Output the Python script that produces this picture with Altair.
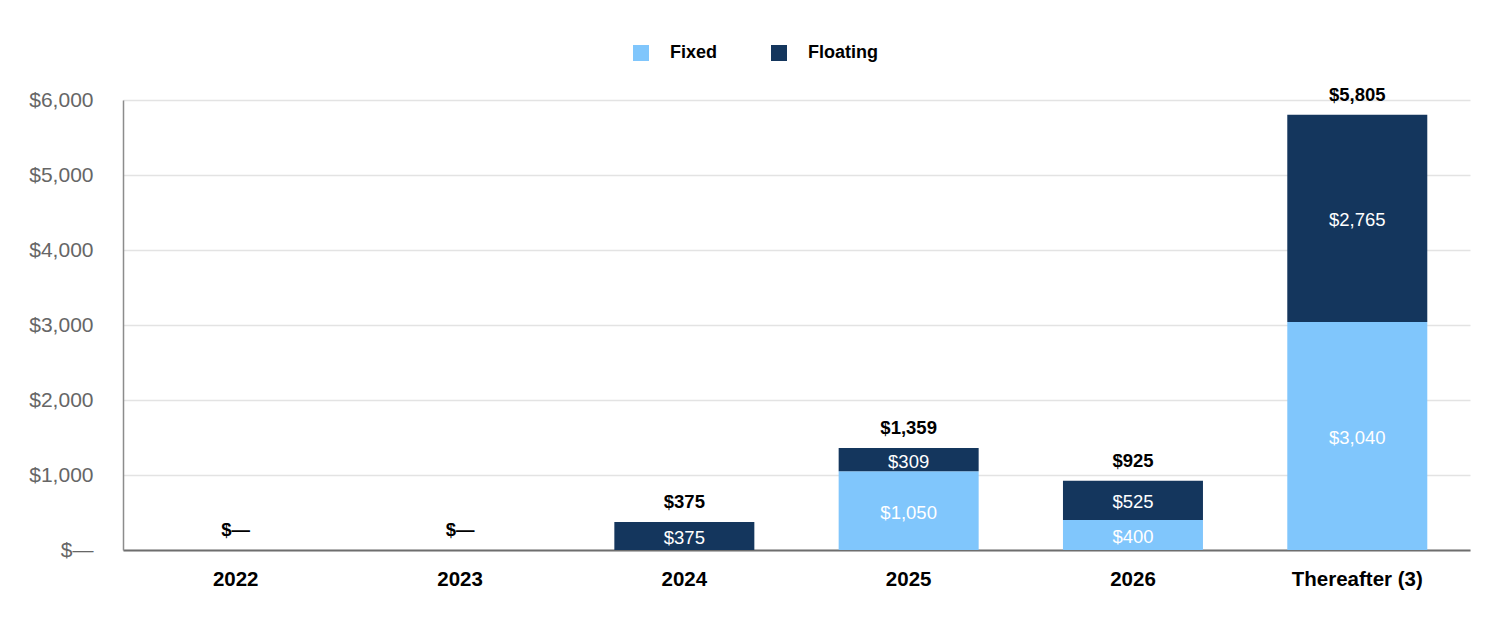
import altair as alt
import pandas as pd

# Debt maturities by year ($ millions)
categories = ["2022", "2023", "2024", "2025", "2026", "Thereafter (3)"]
fixed = [0, 0, 0, 1050, 400, 3040]
floating = [0, 0, 375, 309, 525, 2765]
series_names = ["Fixed", "Floating"]
series_colors = ["#80C6FC", "#14365D"]

FONT = "Liberation Sans"

rows = []
for cat, fx, fl in zip(categories, fixed, floating):
    rows.append({"cat": cat, "series": "Fixed", "value": fx, "mid": fx / 2, "ord": 0})
    rows.append({"cat": cat, "series": "Floating", "value": fl, "mid": fx + fl / 2, "ord": 1})
seg = pd.DataFrame(rows)
seg["label"] = seg["value"].map(lambda v: f"${v:,.0f}")
seg_labels = seg[seg["value"] > 0]

tot = pd.DataFrame({"cat": categories, "total": [a + b for a, b in zip(fixed, floating)]})
tot["label"] = tot["total"].map(lambda v: "$\u2014" if v == 0 else f"${v:,.0f}")

x_scale = alt.Scale(domain=categories, paddingInner=0.375, paddingOuter=0.19)
y_scale = alt.Scale(domain=[0, 6000], nice=False)

bars = alt.Chart(seg).mark_bar(size=140).encode(
    x=alt.X("cat:N", title=None, scale=x_scale),
    y=alt.Y(
        "sum(value):Q",
        stack="zero",
        scale=y_scale,
        title=None,
        axis=alt.Axis(
            values=[0, 1000, 2000, 3000, 4000, 5000, 6000],
            labelExpr="datum.value == 0 ? '$\u2014' : '$' + format(datum.value, ',')",
        ),
    ),
    color=alt.Color(
        "series:N",
        scale=alt.Scale(domain=series_names, range=series_colors),
        legend=alt.Legend(
            title=None,
            orient="none",
            direction="horizontal",
            legendX=509,
            legendY=-56,
            symbolType="square",
            symbolSize=256,
            symbolStrokeWidth=0,
            symbolOpacity=1,
            labelFont=FONT,
            labelFontSize=18,
            labelFontWeight="bold",
            labelColor="#000000",
            labelOffset=20,
            columnPadding=52,
        ),
    ),
    order=alt.Order("ord:Q", sort="ascending"),
)

seg_text = alt.Chart(seg_labels).mark_text(
    font=FONT, fontSize=18.5, color="#ffffff", baseline="middle", dy=2
).encode(
    x=alt.X("cat:N", scale=x_scale),
    y=alt.Y("mid:Q", scale=y_scale),
    text="label:N",
)

tot_text = alt.Chart(tot).mark_text(
    font=FONT, fontSize=18.5, fontWeight="bold", color="#000000", baseline="middle", dy=-20
).encode(
    x=alt.X("cat:N", scale=x_scale),
    y=alt.Y("total:Q", scale=y_scale),
    text="label:N",
)

chart = (
    alt.layer(bars, seg_text, tot_text)
    .properties(
        width=1347,
        height=450,
        autosize=alt.AutoSizeParams(type="none"),
        padding={"left": 123, "top": 100, "right": 30, "bottom": 70},
    )
    .configure(background="#ffffff")
    .configure_view(strokeWidth=0, stroke="transparent")
    .configure_axisX(
        labelAngle=0,
        labelFont=FONT,
        labelFontSize=20.5,
        labelFontWeight="bold",
        labelColor="#000000",
        labelPadding=19,
        ticks=False,
        domainColor="#6e6e6e",
        domainWidth=2,
        grid=False,
    )
    .configure_axisY(
        labelFont=FONT,
        labelFontSize=21,
        labelColor="#666666",
        labelPadding=30,
        ticks=False,
        domainColor="#8c8c8c",
        domainWidth=1.5,
        grid=True,
        gridColor="#e3e3e3",
        gridWidth=1.5,
    )
)

chart.save("out.html", embed_options={"renderer": "svg", "actions": False})
